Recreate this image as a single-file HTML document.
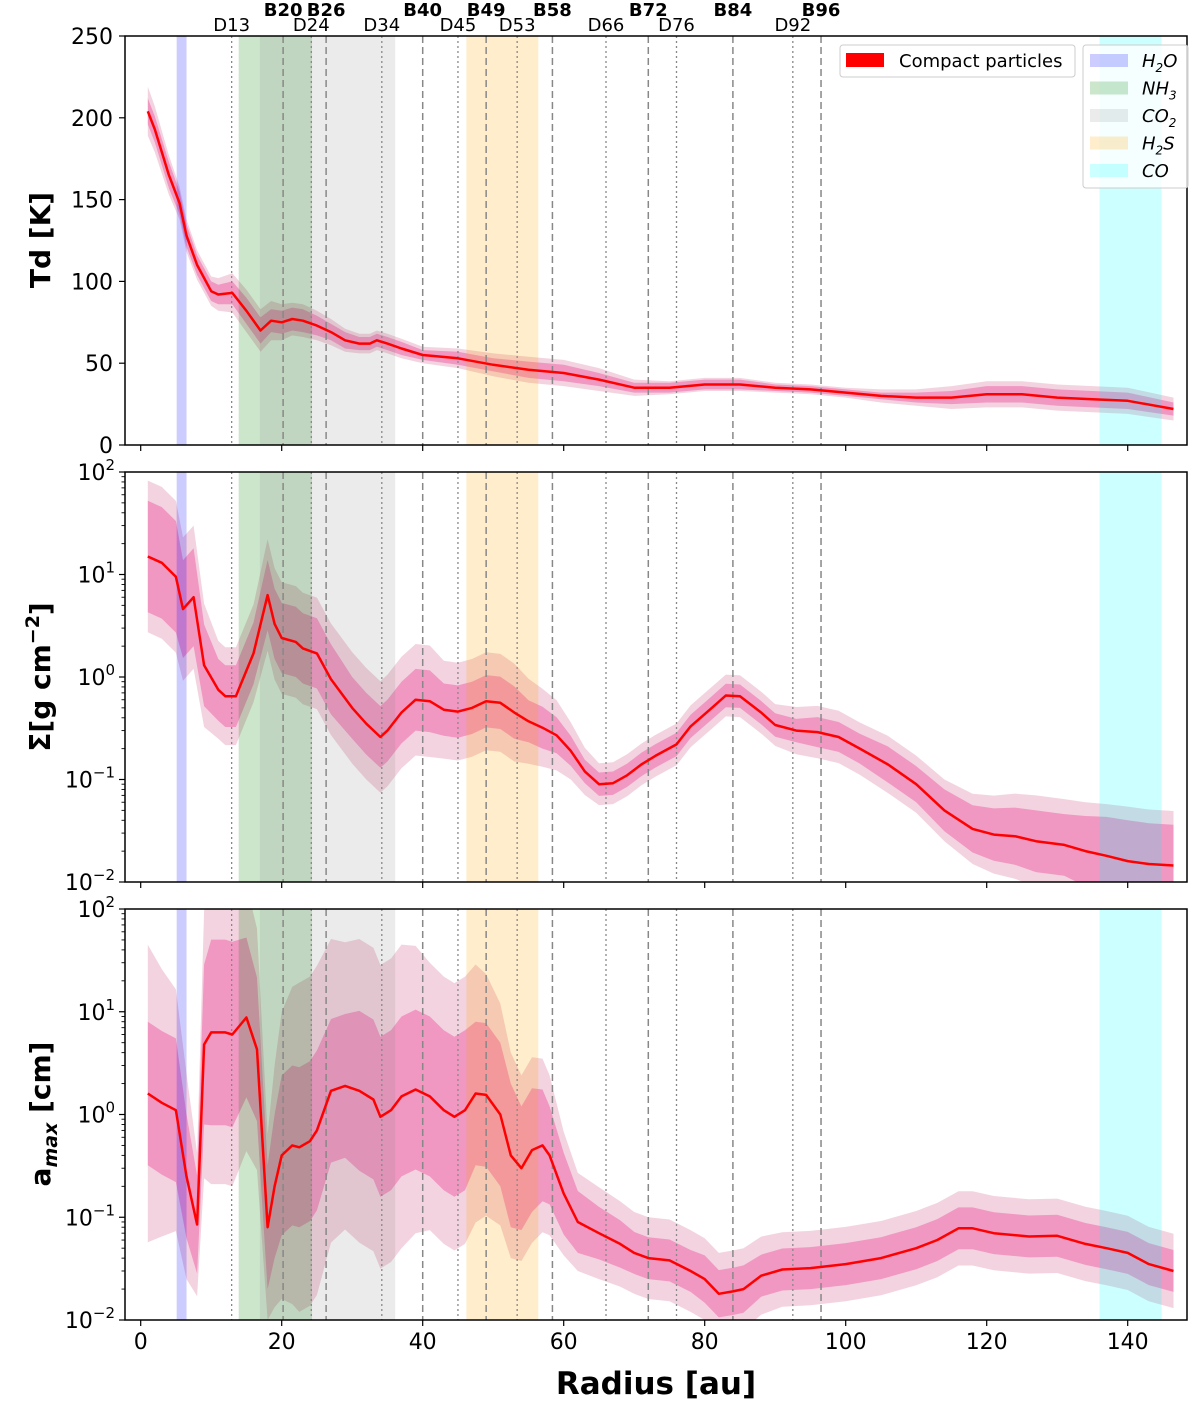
<!DOCTYPE html>
<html><head><meta charset="utf-8"><style>
body{margin:0;background:#fff}
svg text{font-family:"DejaVu Sans","Liberation Sans",sans-serif}
</style></head><body>
<svg id="c" width="1200" height="1399" xmlns="http://www.w3.org/2000/svg"></svg>
<script>
// ---- data ----
const tdR=[1,2,4,5.5,6.5,8,10,11,13,15,17,18.5,20,21.5,23,25,27,29,31,32.5,33.5,35,37,40,45,50,55,60,65,70,75,80,85,90,95,100,105,110,115,120,125,130,135,140,146.5];
const tdV=[204,193,165,148,128,110,94,92,93,82,70,76,75,77,76,73,69,64,62,62,64,62,59,55,53,49,46,44,40,35,35,37,37,35,34,32,30,29,29,31,31,29,28,27,22];
const tdIn=[8,8,8,7,7,6,6,6,7,8,8,7,7,7,7,6,5,5,4,4,4,4,4,3,4,4,5,5,4,3,3,3,3,2,2,2,2,3,4,5,5,5,5,5,4];
const tdOut=[15,14,12,10,10,9,9,10,12,13,13,12,11,10,10,9,8,7,6,6,6,6,6,5,6,7,8,8,7,5,4,4,4,3,3,3,4,5,7,8,8,8,8,8,7];
const sgR=[1,3,5,6,7.5,9,11,12,13.5,16,18,19,20,22,23,25,27,30,32,34,35,37,39,41,43,45,47,49,51,53,55,57,59,61,63,65,67,69,71,73,76,78,81,83,85,88,90,93,96,99,102,106,110,114,118,121,124,127,131,134,137,140,143,146.5];
const sgV=[15,13,9.5,4.6,6,1.3,0.75,0.65,0.65,1.7,6.3,3.3,2.4,2.2,1.9,1.7,0.95,0.5,0.35,0.26,0.3,0.45,0.6,0.58,0.48,0.46,0.5,0.58,0.56,0.45,0.37,0.32,0.27,0.19,0.12,0.09,0.092,0.11,0.14,0.17,0.22,0.33,0.5,0.66,0.65,0.45,0.34,0.3,0.29,0.26,0.2,0.14,0.09,0.05,0.033,0.029,0.028,0.025,0.023,0.02,0.018,0.016,0.015,0.0145];
const sgIn=[3.5,3.5,3.5,3,3,2.5,2,2,2,2,2.2,2.2,2.2,2.2,2.2,2.2,2.2,2,2,2,2,2,2,2,1.8,1.8,1.8,1.8,1.8,1.8,1.6,1.6,1.5,1.4,1.3,1.3,1.3,1.3,1.3,1.3,1.3,1.3,1.3,1.3,1.3,1.3,1.3,1.3,1.4,1.4,1.4,1.5,1.5,1.6,1.7,1.8,1.9,2,2,2.2,2.4,2.5,2.5,2.5];
const sgOut=[5.5,5.5,5.5,5,5,4,3,3,3,3,3.5,3.5,3.5,3.5,3.5,3.5,3.5,3.5,3.5,3.5,3.5,3.5,3.5,3.5,3,3,3,3,3,3,2.6,2.4,2.2,1.9,1.7,1.6,1.6,1.6,1.6,1.6,1.6,1.6,1.6,1.6,1.6,1.6,1.6,1.7,1.8,1.8,1.8,1.9,1.9,2,2.2,2.4,2.6,2.8,2.8,3,3.2,3.4,3.4,3.4];
const amR=[1,3,5,6.5,8,9,10,12,13,15,16.5,18,19,20,21.5,22.5,24,25,27,29,31,33,34,35.5,37,39,41,43,44.5,46,47.5,49,51,52.5,54,55.5,57,58,60,62,65,68,70,72,75,78,80,82,84,85.5,88,91,95,100,105,110,113,116,118,121,126,130,134,137,140,143,146.5];
const amV=[1.6,1.3,1.1,0.25,0.085,4.8,6.3,6.3,6,8.8,4.3,0.08,0.2,0.4,0.5,0.48,0.55,0.7,1.7,1.9,1.7,1.4,0.95,1.1,1.5,1.75,1.5,1.1,0.95,1.1,1.6,1.55,1.0,0.4,0.3,0.45,0.5,0.4,0.17,0.09,0.07,0.055,0.045,0.04,0.038,0.03,0.025,0.018,0.019,0.02,0.027,0.031,0.032,0.035,0.04,0.05,0.06,0.078,0.078,0.07,0.065,0.066,0.055,0.05,0.045,0.035,0.03];
const amIn=[5,5,5,4,3,6,8,8,8,6,5,4,5,6,6,6,6,6,5,5,6,6,6,6,6,6,6,6,6,6,5,5,5,5,4,4,3.5,3,2.5,2,1.8,1.7,1.6,1.6,1.6,1.6,1.7,1.7,1.7,1.7,1.6,1.6,1.6,1.6,1.6,1.6,1.6,1.6,1.6,1.6,1.6,1.6,1.6,1.6,1.6,1.6,1.6];
const amOut=[28,20,15,10,5,20,30,30,30,20,15,8,15,25,35,40,40,40,30,25,30,30,30,30,30,25,20,20,20,20,18,15,12,10,8,8,7,6,4,3,2.8,2.6,2.5,2.5,2.5,2.5,2.5,2.5,2.5,2.5,2.4,2.3,2.3,2.3,2.3,2.3,2.3,2.3,2.3,2.3,2.3,2.3,2.3,2.3,2.3,2.3,2.3];
const bandNames=['h2o','nh3','co2','h2s','co'];
const bandFrom=[5.1,13.9,16.9,46.2,136];
const bandTo=[6.5,24.3,36.1,56.4,144.8];
const bandColor=['rgba(0,0,255,0.2)','rgba(0,128,0,0.2)','rgba(128,128,128,0.16)','rgba(255,165,0,0.2)','rgba(0,255,255,0.2)'];
const ringNames=['D13','B20','D24','B26','D34','B40','D45','B49','D53','B58','D66','B72','D76','B84','D92','B96'];
const ringPos=[12.9,20.2,24.2,26.3,34.2,40,45,49,53.4,58.4,66,72,76,84,92.5,96.5];
const xTicks=[0,20,40,60,80,100,120,140];
const tdTicks=[0,50,100,150,200,250];
const logExp=[-2,-1,0,1,2];
// ---- layout ----
const L=125,R=1187;
const panels=[{t:36,b:445},{t:472,b:882},{t:909,b:1320}];
const X=r=>140.7+7.05*r;
const NS='http://www.w3.org/2000/svg';
const svg=document.getElementById('c');
function mk(tag,attrs,parent){const e=document.createElementNS(NS,tag);for(const k in attrs)e.setAttribute(k,attrs[k]);(parent||svg).appendChild(e);return e;}
function linY(p,v){return p.b-(v/250)*(p.b-p.t);}
function logY(p,v){return p.b-((Math.log10(v)+2)/4)*(p.b-p.t);}
function poly(xs,lo,hi){let s='';for(let i=0;i<xs.length;i++)s+=(i?'L':'M')+X(xs[i]).toFixed(1)+','+hi[i].toFixed(1);for(let i=xs.length-1;i>=0;i--)s+='L'+X(xs[i]).toFixed(1)+','+lo[i].toFixed(1);return s+'Z';}
function line(xs,ys){let s='';for(let i=0;i<xs.length;i++)s+=(i?'L':'M')+X(xs[i]).toFixed(1)+','+ys[i].toFixed(1);return s;}
const defs=mk('defs',{});
panels.forEach((p,i)=>{const cp=mk('clipPath',{id:'cp'+i},defs);mk('rect',{x:L,y:p.t,width:R-L,height:p.b-p.t},cp);});

function drawPanel(pi,rs,vs,inn,out,isLog,name){
  const p=panels[pi];
  const g=mk('g',{'clip-path':'url(#cp'+pi+')'});
  
  
  const Y=isLog?(v=>logY(p,Math.min(Math.max(v,1e-3),1e3))):(v=>linY(p,v));
  const oLo=vs.map((v,i)=>Y(isLog?v/out[i]:v-out[i])),oHi=vs.map((v,i)=>Y(isLog?v*out[i]:v+out[i]));
  const iLo=vs.map((v,i)=>Y(isLog?v/inn[i]:v-inn[i])),iHi=vs.map((v,i)=>Y(isLog?v*inn[i]:v+inn[i]));
  const ob=mk('path',{d:poly(rs,oLo,oHi),fill:'rgba(215,110,150,0.3)'},g);
  
  
  const ib=mk('path',{d:poly(rs,iLo,iHi),fill:'rgba(235,70,155,0.42)'},g);
  
  
  bandNames.forEach((bn,i)=>{const r=mk('rect',{x:X(bandFrom[i]),y:p.t,width:X(bandTo[i])-X(bandFrom[i]),height:p.b-p.t,fill:bandColor[i]},g);
    
    });
  ringNames.forEach((rn,i)=>{const isB=rn[0]==='B';const l=mk('line',{x1:X(ringPos[i]),x2:X(ringPos[i]),y1:p.t,y2:p.b,stroke:'#888','stroke-width':isB?1.5:1.3,'stroke-dasharray':isB?'7,4':'2,3'},g);
    
    });
  const ln=mk('path',{d:line(rs,vs.map(Y)),fill:'none',stroke:'#ff0000','stroke-width':2.5,'stroke-linejoin':'round'},g);
  
  
  const fr=mk('rect',{x:L,y:p.t,width:R-L,height:p.b-p.t,fill:'none',stroke:'#000','stroke-width':1.5});
  
  
  xTicks.forEach(t=>{mk('line',{x1:X(t),x2:X(t),y1:p.b,y2:p.b+6,stroke:'#000','stroke-width':1.2});});
  if(isLog){
    logExp.forEach(e=>{const y=logY(p,Math.pow(10,e));mk('line',{x1:L-6,x2:L,y1:y,y2:y,stroke:'#000','stroke-width':1.2});
      const t=mk('text',{x:L-10,y:y+8,'font-size':22,'text-anchor':'end'});t.innerHTML='10<tspan dy="-10" font-size="15">'+(e<0?'\u2212'+(-e):e)+'</tspan>';
      
      
      if(e<2)for(let m=2;m<10;m++){const yy=logY(p,m*Math.pow(10,e));mk('line',{x1:L-3.5,x2:L,y1:yy,y2:yy,stroke:'#000','stroke-width':0.9});}});
  } else {
    tdTicks.forEach(v=>{const y=linY(p,v);mk('line',{x1:L-6,x2:L,y1:y,y2:y,stroke:'#000','stroke-width':1.2});
      const t=mk('text',{x:L-12,y:y+8,'font-size':22,'text-anchor':'end'});t.textContent=v;
      
      });
  }
}
drawPanel(0,tdR,tdV,tdIn,tdOut,false,'td');
drawPanel(1,sgR,sgV,sgIn,sgOut,true,'sigma');
drawPanel(2,amR,amV,amIn,amOut,true,'amax');

// x tick labels
xTicks.forEach(t=>{const e=mk('text',{x:X(t),y:1349,'font-size':22,'text-anchor':'middle'});e.textContent=t;
  
  });
const xl=mk('text',{x:656,y:1394,'font-size':31,'font-weight':'bold','text-anchor':'middle'});xl.textContent='Radius [au]';


// y titles
function ytitle(txt,cy,name){const t=mk('text',{x:0,y:0,'font-size':28,'font-weight':'bold','text-anchor':'middle',transform:'translate(50,'+cy+') rotate(-90)'});t.innerHTML=txt;
  
  }
ytitle('Td [K]',240,'td-y-axis-title');
ytitle('Σ[g cm<tspan dy="-11" font-size="19">−2</tspan><tspan dy="11">]</tspan>',677,'sigma-y-axis-title');
ytitle('a<tspan dy="7" font-size="19" font-style="italic">max</tspan><tspan dy="-7"> [cm]</tspan>',1114,'amax-y-axis-title');
// ring labels
ringNames.forEach((rn,i)=>{const isB=rn[0]==='B';const t=mk('text',{x:X(ringPos[i]),y:isB?16:31,'font-size':18,'font-weight':isB?'bold':'normal','text-anchor':'middle'});t.textContent=rn;
  
  });
// legends
const lg1=mk('g',{});


mk('rect',{x:840,y:45,width:235,height:32,fill:'#fff',stroke:'#ccc',rx:3},lg1);
mk('rect',{x:846,y:53,width:38,height:14,fill:'#ff0000'},lg1);
const lt=mk('text',{x:899,y:67,'font-size':18},lg1);lt.textContent='Compact particles';
const lg2=mk('g',{});


mk('rect',{x:1083,y:45,width:105,height:143,fill:'rgba(255,255,255,0.8)',stroke:'#ccc',rx:3},lg2);
const lgLab=['H<tspan dy="5" font-size="12">2</tspan><tspan dy="-5">O</tspan>','NH<tspan dy="5" font-size="12">3</tspan>','CO<tspan dy="5" font-size="12">2</tspan>','H<tspan dy="5" font-size="12">2</tspan><tspan dy="-5">S</tspan>','CO'];
bandNames.forEach((bn,i)=>{const y=60+i*27.5;mk('rect',{x:1090,y:y-6,width:38,height:13,fill:bandColor[i]},lg2);
  const t=mk('text',{x:1142,y:y+7,'font-size':18,'font-style':'italic'},lg2);t.innerHTML=lgLab[i];
  
  });
</script>
</body></html>
